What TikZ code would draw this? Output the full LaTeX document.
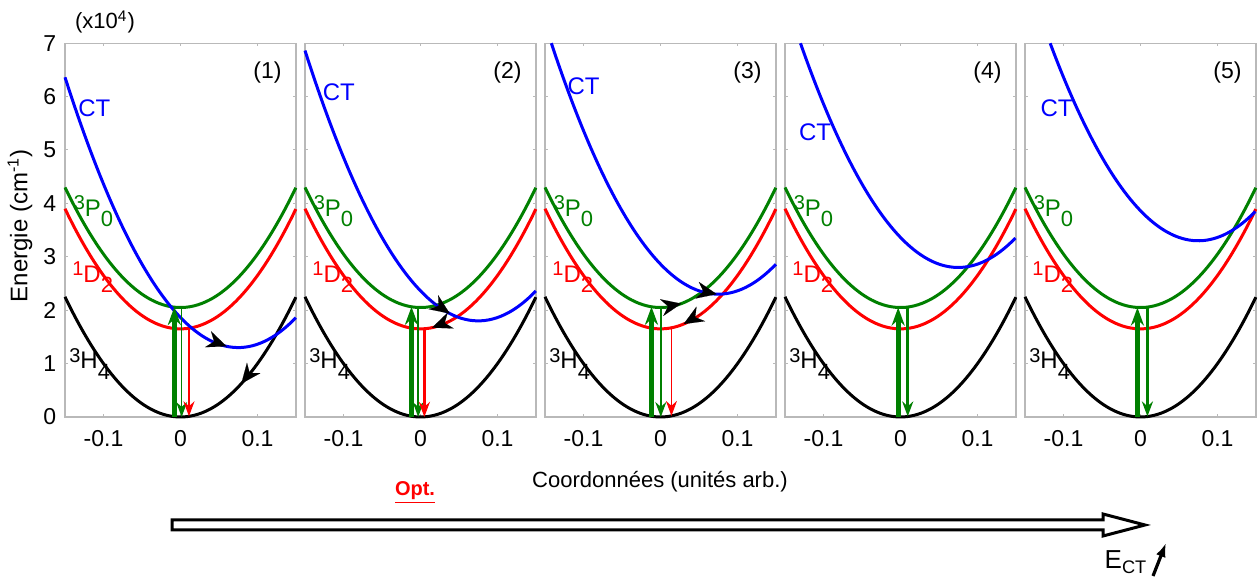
\documentclass[tikz,border=0pt]{standalone}
\usepackage{fontspec}
\setmainfont{Liberation Sans}
\usetikzlibrary{arrows.meta}

\definecolor{ogreen}{RGB}{0,128,0}
\newcommand{\term}[3]{\raisebox{0.55ex}{\fontsize{10}{10}\selectfont #1}#2\raisebox{-0.8ex}{\fontsize{11}{11}\selectfont #3}}

\begin{document}
\begin{tikzpicture}[
  x=0.5pt, y=0.5pt,
  every node/.style={font=\fontsize{11}{13}\selectfont},
  %% panel = one energy plot, origin at (0 coord., 0 energy)
  panel/.style={shift={(#1,160)}, x=385pt, y=26.7pt},
  frame/.style={draw=gray!55, line width=0.6pt},
  tick/.style={draw=gray!55, line width=0.5pt},
  ticklab/.style={font=\fontsize{11.5}{13}\selectfont, inner sep=0pt},
  lab/.style={font=\fontsize{12}{14}\selectfont, inner sep=0pt},
  curve/.style={line width=1.5pt, smooth, samples=60},
  uparr/.style={-{Stealth[length=9pt,width=6.5pt]}, line width=2.4pt, draw=ogreen, fill=ogreen},
  dnarr/.style={-{Stealth[length=7.5pt,width=5.5pt]}, line width=0.8pt},
  head/.style={-{Stealth[length=10pt,width=8.5pt]}, line width=0.05pt, draw=black},
]
\useasboundingbox (0,0) rectangle (1259,577);

%% =========================================================
%% FIVE PANELS — frame, ticks, curves, labels
%% =========================================================
\foreach \n/\cx/\ect/\ctx/\cty in {1/180.5/1.3/-0.112/5.79,
    2/420.5/1.8/-0.106/6.09, 3/660.5/2.3/-0.1/6.2,
    4/900.5/2.8/-0.111/5.34, 5/1140.5/3.3/-0.109/5.79}{
  \begin{scope}[panel=\cx]
    \pgfmathsetmacro\xs{max(-0.15,0.075-sqrt((7-\ect)/100))}
    \draw[frame] (-0.15,0) rectangle (0.15,7);
    \foreach \yy in {1,...,6}{
      \draw[tick] (-0.15,\yy) -- ++(0.004,0);
      \draw[tick] (0.15,\yy) -- ++(-0.004,0);
    }
    \foreach \xx [count=\k] in {-0.1,0,0.1}{
      \draw[tick] (\xx,0) -- ++(0,0.06);
      \draw[tick] (\xx,7) -- ++(0,-0.06);
      \node[ticklab, anchor=north] (xt\n-\k) at (\xx,-0.24) {\xx};
    }
    %% potential curves
    \draw[curve, black]  plot[domain=-0.15:0.15] ({\x},{100*(\x)*(\x)});
    \draw[curve, red]    plot[domain=-0.15:0.15] ({\x},{1.65+100*(\x)*(\x)});
    \draw[curve, ogreen] plot[domain=-0.15:0.15] ({\x},{2.05+100*(\x)*(\x)});
    \draw[curve, blue]   plot[domain=\xs:0.15]
      ({\x},{\ect+100*(\x-0.075)*(\x-0.075)});
    %% curve labels
    \node[lab, text=blue]   (ct\n) at (\ctx,\cty) {CT};
    \node[lab, text=ogreen] (p\n)  at (-0.113,3.85) {\term{3}{P}{0}};
    \node[lab, text=red]    (d\n)  at (-0.114,2.62) {\term{1}{D}{2}};
    \node[lab]              (h\n)  at (-0.118,1.0)  {\term{3}{H}{4}};
    \node[lab, font=\fontsize{11.5}{13}\selectfont] (num\n) at (0.113,6.45) {(\n)};
  \end{scope}
}

%% energy scale, left panel only
\begin{scope}[panel=180.5]
  \foreach \yy in {0,...,7}{
    \node[ticklab, anchor=east] (yt\yy) at (-0.161,\yy) {\yy};
  }
\end{scope}

%% =========================================================
%% TRANSITIONS
%% =========================================================
%% panel 1
\begin{scope}[panel=180.5]
  \draw[uparr] (-0.008,0) -- (-0.008,2.06);
  \draw[dnarr, ogreen] (0.0015,2.05) -- (0.0015,0);
  \draw[dnarr, red] (0.011,1.66) -- (0.011,0.012);
  \draw[head] (0.035,1.46) -- (0.06,1.3225);
  \draw[head] (0.105,1.1025) -- (0.079,0.624);
\end{scope}
%% panel 2
\begin{scope}[panel=420.5]
  \draw[uparr] (-0.0117,0) -- (-0.0117,2.064);
  \draw[dnarr, ogreen] (-0.003,2.05) -- (-0.003,0);
  \draw[dnarr, red, line width=1.8pt] (0.005,1.653) -- (0.005,0);
  \draw[head] (0.012,2.196) -- (0.038,1.937);
  \draw[head] (0.04,1.81) -- (0.015,1.6725);
\end{scope}
%% panel 3
\begin{scope}[panel=660.5]
  \draw[uparr] (-0.0117,0) -- (-0.0117,2.064);
  \draw[dnarr, ogreen] (0.0004,2.05) -- (0.0004,0);
  \draw[dnarr, red] (0.0142,1.67) -- (0.0142,0.02);
  \draw[head] (0.002,2.0504) -- (0.027,2.123);
  \draw[head] (0.048,2.3729) -- (0.073,2.3004);
  \draw[head] (0.055,1.9525) -- (0.03,1.74);
\end{scope}
%% panel 4
\begin{scope}[panel=900.5]
  \draw[uparr] (-0.003,0) -- (-0.003,2.05);
  \draw[dnarr, ogreen, line width=1.5pt] (0.0094,2.06) -- (0.0094,0.01);
\end{scope}
%% panel 5
\begin{scope}[panel=1140.5]
  \draw[uparr] (-0.004,0) -- (-0.004,2.05);
  \draw[dnarr, ogreen, line width=1.5pt] (0.009,2.06) -- (0.009,0.01);
\end{scope}

%% =========================================================
%% AXIS TITLES AND E_CT ARROW
%% =========================================================
\node (scale) at (105,555) {(x10\textsuperscript{4})};
\node[rotate=90, font=\fontsize{12}{14}\selectfont] (ylabel) at (20,351)
  {Energie (cm\textsuperscript{-1})};
\node (xlabel) at (660,95) {Coordonnées (unités arb.)};
\node[text=red, font=\fontsize{10}{12}\selectfont\bfseries] (opt) at (415,84)
  {\underline{Opt.}};

\draw[line width=1.5pt, fill=white]
  (172,47) -- (1103,47) -- (1103,41) -- (1145,52) -- (1103,63)
  -- (1103,57) -- (172,57) -- cycle;
\node[font=\fontsize{13}{15}\selectfont] (ect) at (1126,15) {E\textsubscript{CT}};
\draw[-{Latex[length=7pt,width=5pt]}, line width=1.6pt] (1153,1) -- (1166,34);

\end{tikzpicture}
\end{document}
